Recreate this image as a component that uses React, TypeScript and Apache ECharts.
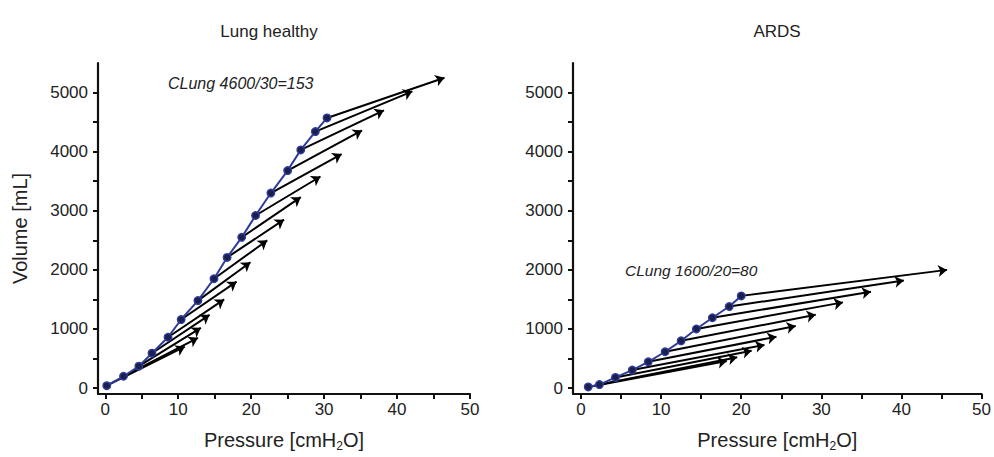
import React, { useEffect, useRef } from "react";
import * as echarts from "echarts";

// Healthy lung: pressure–volume points (blue curve)
const healthyP = [0.2, 2.5, 4.6, 6.4, 8.6, 10.4, 12.7, 14.9, 16.7, 18.7, 20.6, 22.7, 25.0, 26.8, 28.8, 30.4];
const healthyV = [40, 200, 370, 590, 860, 1160, 1480, 1850, 2210, 2550, 2920, 3300, 3680, 4030, 4340, 4570];
// Healthy lung: arrow end points
const healthyEndP = [10.9, 12.7, 13.1, 14.3, 16.3, 18.0, 19.9, 22.2, 24.5, 26.8, 29.5, 32.4, 35.2, 38.2, 42.1, 46.5];
const healthyEndV = [700, 850, 1020, 1240, 1500, 1800, 2130, 2500, 2850, 3230, 3580, 3960, 4360, 4700, 5020, 5250];

// ARDS: pressure–volume points (blue curve)
const ardsP = [0.9, 2.3, 4.3, 6.4, 8.4, 10.5, 12.5, 14.4, 16.4, 18.5, 20.0];
const ardsV = [20, 60, 180, 305, 445, 615, 800, 1000, 1190, 1380, 1560];
// ARDS: arrow end points
const ardsEndP = [18.2, 19.5, 21.3, 22.9, 24.4, 26.8, 29.3, 32.7, 36.2, 40.3, 45.7];
const ardsEndV = [460, 520, 630, 730, 870, 1050, 1240, 1450, 1630, 1820, 2000];

const xLabelTicks = [0, 10, 20, 30, 40, 50];
const xMinorTicks = [0, 5, 10, 15, 20, 25, 30, 35, 40, 45, 50];
const yLabelTicks = [0, 1000, 2000, 3000, 4000, 5000];
const yMinorTicks = [0, 500, 1000, 1500, 2000, 2500, 3000, 3500, 4000, 4500, 5000];

const titles = ["Lung healthy", "ARDS"];
const annotations = ["CLung 4600/30=153", "CLung 1600/20=80"];

const FONT = "Liberation Sans";

export default function App() {
  const ref = useRef<HTMLDivElement>(null);

  useEffect(() => {
    if (!ref.current) return;
    const chart = echarts.init(ref.current, null, { renderer: "svg" });

    const axisCommon = {
      axisLine: { onZero: false, lineStyle: { color: "#111", width: 2.2 } },
      axisTick: { length: 5, lineStyle: { color: "#111", width: 2 } },
      splitLine: { show: false },
    };
    const labelCommon = {
      color: "#222",
      fontSize: 17,
      fontFamily: FONT,
      formatter: (v: number) => String(v),
    };
    const xName = "{a|Pressure [cmH}{s|2}{a|O]}";
    const xNameStyle = {
      rich: {
        a: { fontSize: 20, fontFamily: FONT, color: "#222" },
        s: { fontSize: 12, fontFamily: FONT, color: "#222", verticalAlign: "bottom", padding: [12, 0, 0, 0] },
      },
    };

    const mkX = (idx: number) => ({
      type: "value",
      gridIndex: idx,
      min: -1,
      max: 50,
      ...axisCommon,
      axisTick: { ...axisCommon.axisTick, customValues: xMinorTicks },
      axisLabel: { ...labelCommon, margin: 7, customValues: xLabelTicks },
      name: xName,
      nameLocation: "middle",
      nameGap: 34,
      nameTextStyle: xNameStyle,
    });
    const mkY = (idx: number, withName: boolean) => ({
      type: "value",
      gridIndex: idx,
      min: -100,
      max: 5500,
      ...axisCommon,
      axisTick: { ...axisCommon.axisTick, customValues: yMinorTicks },
      axisLabel: { ...labelCommon, margin: 10, customValues: yLabelTicks },
      name: withName ? "Volume [mL]" : "",
      nameLocation: "middle",
      nameGap: 68,
      nameTextStyle: { fontSize: 20, fontFamily: FONT, color: "#222" },
    });

    const arrows = (p: number[], v: number[], ep: number[], ev: number[]) =>
      p.map((x, i) => ({ coords: [[x, v[i]], [ep[i], ev[i]]] }));
    const curve = (p: number[], v: number[]) => p.map((x, i) => [x, v[i]]);

    const lineSeries = (idx: number, data: number[][]) => ({
      type: "line",
      xAxisIndex: idx,
      yAxisIndex: idx,
      data,
      z: 5,
      symbol: "circle",
      symbolSize: 7.5,
      lineStyle: { color: "#2d3b9c", width: 2 },
      itemStyle: { color: "#1b1f4a", borderColor: "#2d3b9c", borderWidth: 1.4 },
    });
    const arrowSeries = (idx: number, data: any[]) => ({
      type: "lines",
      coordinateSystem: "cartesian2d",
      xAxisIndex: idx,
      yAxisIndex: idx,
      data,
      z: 3,
      symbol: ["none", "arrow"],
      symbolSize: 9,
      lineStyle: { color: "#000", width: 2, opacity: 1, curveness: 0 },
    });

    const titleStyle = { fontSize: 17, fontWeight: "normal", fontFamily: FONT, color: "#222" };

    chart.setOption({
      animation: false,
      backgroundColor: "#fff",
      title: [
        { text: titles[0], left: 264, top: 18, textAlign: "center", textStyle: titleStyle },
        { text: titles[1], left: 772, top: 18, textAlign: "center", textStyle: titleStyle },
      ],
      grid: [
        { left: 98, top: 63, width: 372, height: 331 },
        { left: 573, top: 63, width: 410, height: 332 },
      ],
      xAxis: [mkX(0), mkX(1)],
      yAxis: [mkY(0, true), mkY(1, false)],
      graphic: [
        { type: "text", left: 168, top: 75, style: { text: annotations[0], font: `italic 16px "${FONT}"`, fill: "#222" } },
        { type: "text", left: 625, top: 262, style: { text: annotations[1], font: `italic 15.5px "${FONT}"`, fill: "#222" } },
      ],
      series: [
        arrowSeries(0, arrows(healthyP, healthyV, healthyEndP, healthyEndV)),
        lineSeries(0, curve(healthyP, healthyV)),
        arrowSeries(1, arrows(ardsP, ardsV, ardsEndP, ardsEndV)),
        lineSeries(1, curve(ardsP, ardsV)),
      ],
    });

    return () => chart.dispose();
  }, []);

  return (
    <div
      ref={ref}
      style={{ position: "absolute", left: 0, top: 0, width: 994, height: 457 }}
    />
  );
}
